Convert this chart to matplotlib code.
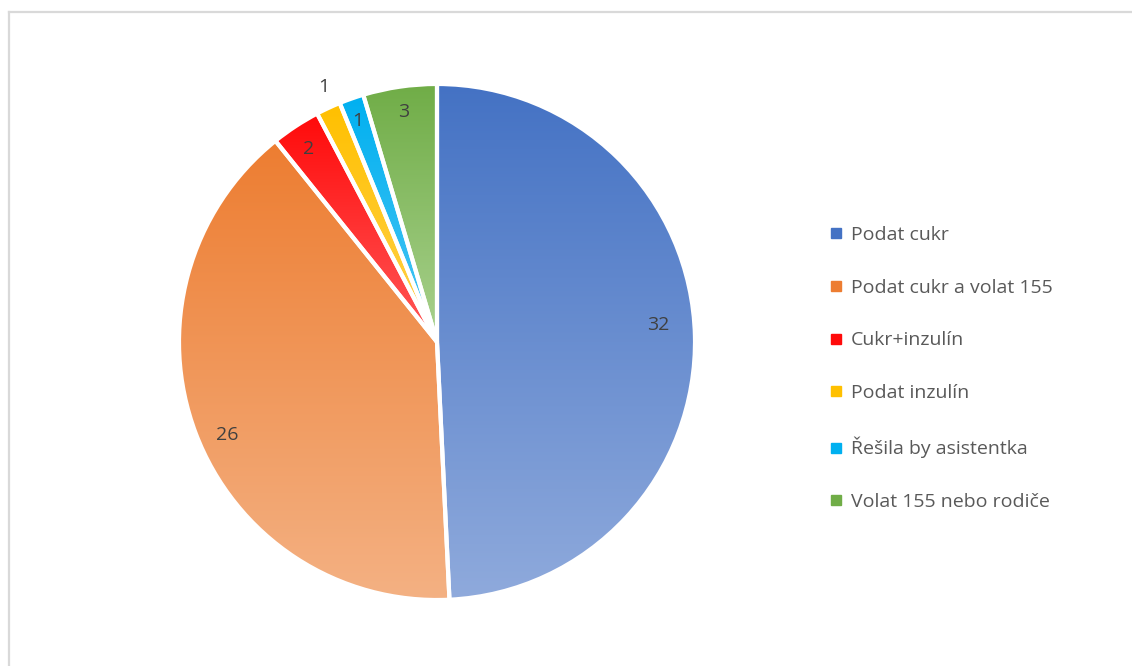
import numpy as np
import matplotlib
matplotlib.use("Agg")
import matplotlib.pyplot as plt
from matplotlib.colors import LinearSegmentedColormap
from matplotlib.lines import Line2D

plt.rcParams['font.family'] = ['Open Sans', 'DejaVu Sans']

categories = ["Podat cukr", "Podat cukr a volat 155", "Cukr+inzulín",
              "Podat inzulín", "Řešila by asistentka", "Volat 155 nebo rodiče"]
values = [32, 26, 2, 1, 1, 3]
top_colors = ["#4472C4", "#ED7D31", "#FF0A0A", "#FFC000", "#00B0F0", "#70AD47"]
bottom_colors = ["#8FAADC", "#F4B183", "#FF5A5A", "#FFD24D", "#4DC6F4", "#A9D18E"]
# label radius fraction and angle offset (deg) for each slice's value label
label_r = [0.86, 0.89, 0.90, 1.08, 0.91, 0.90]
label_dang = [3.0, 3.0, 0.4, -0.9, 0.3, 0.0]

W, H = 1132, 666
fig = plt.figure(figsize=(W / 100, H / 100), dpi=100)
cx, cy, R = 437, 342, 258
ax = fig.add_axes([(cx - R) / W, (H - cy - R) / H, 2 * R / W, 2 * R / H])

wedges, _ = ax.pie(values, startangle=90, counterclock=False, radius=1,
                   colors=top_colors, wedgeprops=dict(linewidth=0))
ax.set_xlim(-1, 1)
ax.set_ylim(-1, 1)
ax.axis('off')

for w, tc, bc in zip(wedges, top_colors, bottom_colors):
    ext = w.get_path().get_extents(w.get_patch_transform())
    cmap = LinearSegmentedColormap.from_list("g", [tc, bc])
    grad = np.linspace(0, 1, 256).reshape(-1, 1)
    im = ax.imshow(grad, cmap=cmap, aspect='auto', origin='upper',
                   extent=[ext.x0, ext.x1, ext.y0, ext.y1], zorder=1,
                   interpolation='bilinear')
    im.set_clip_path(w)
    w.set_facecolor('none')
    w.set_edgecolor('white')
    w.set_linewidth(3.0)
    w.set_zorder(3)
ax.set_xlim(-1, 1)
ax.set_ylim(-1, 1)

for w, v, r, da in zip(wedges, values, label_r, label_dang):
    ang = np.deg2rad((w.theta1 + w.theta2) / 2 + da)
    ax.text(r * np.cos(ang), r * np.sin(ang), str(v), ha='center', va='center',
            fontsize=14, color='#404040', zorder=5)

handles = [Line2D([0], [0], marker='s', linestyle='none', markersize=6.5,
                  markerfacecolor=c, markeredgecolor=c) for c in top_colors]
leg = fig.legend(handles, categories, loc='upper left',
                 bbox_to_anchor=(821 / W, 1 - 216 / H), frameon=False,
                 fontsize=14, labelcolor='#595959', labelspacing=1.79,
                 handlelength=0.55, handletextpad=0.5, borderpad=0)

# outer frame (top and left edges visible)
fig.add_artist(Line2D([8.5 / W, 1], [1 - 11.5 / H, 1 - 11.5 / H], color='#D9D9D9', lw=1.6,
                      transform=fig.transFigure))
fig.add_artist(Line2D([8.5 / W, 8.5 / W], [0, 1 - 11.5 / H], color='#D9D9D9', lw=1.6,
                      transform=fig.transFigure))

fig.savefig("out.png", dpi=100)
